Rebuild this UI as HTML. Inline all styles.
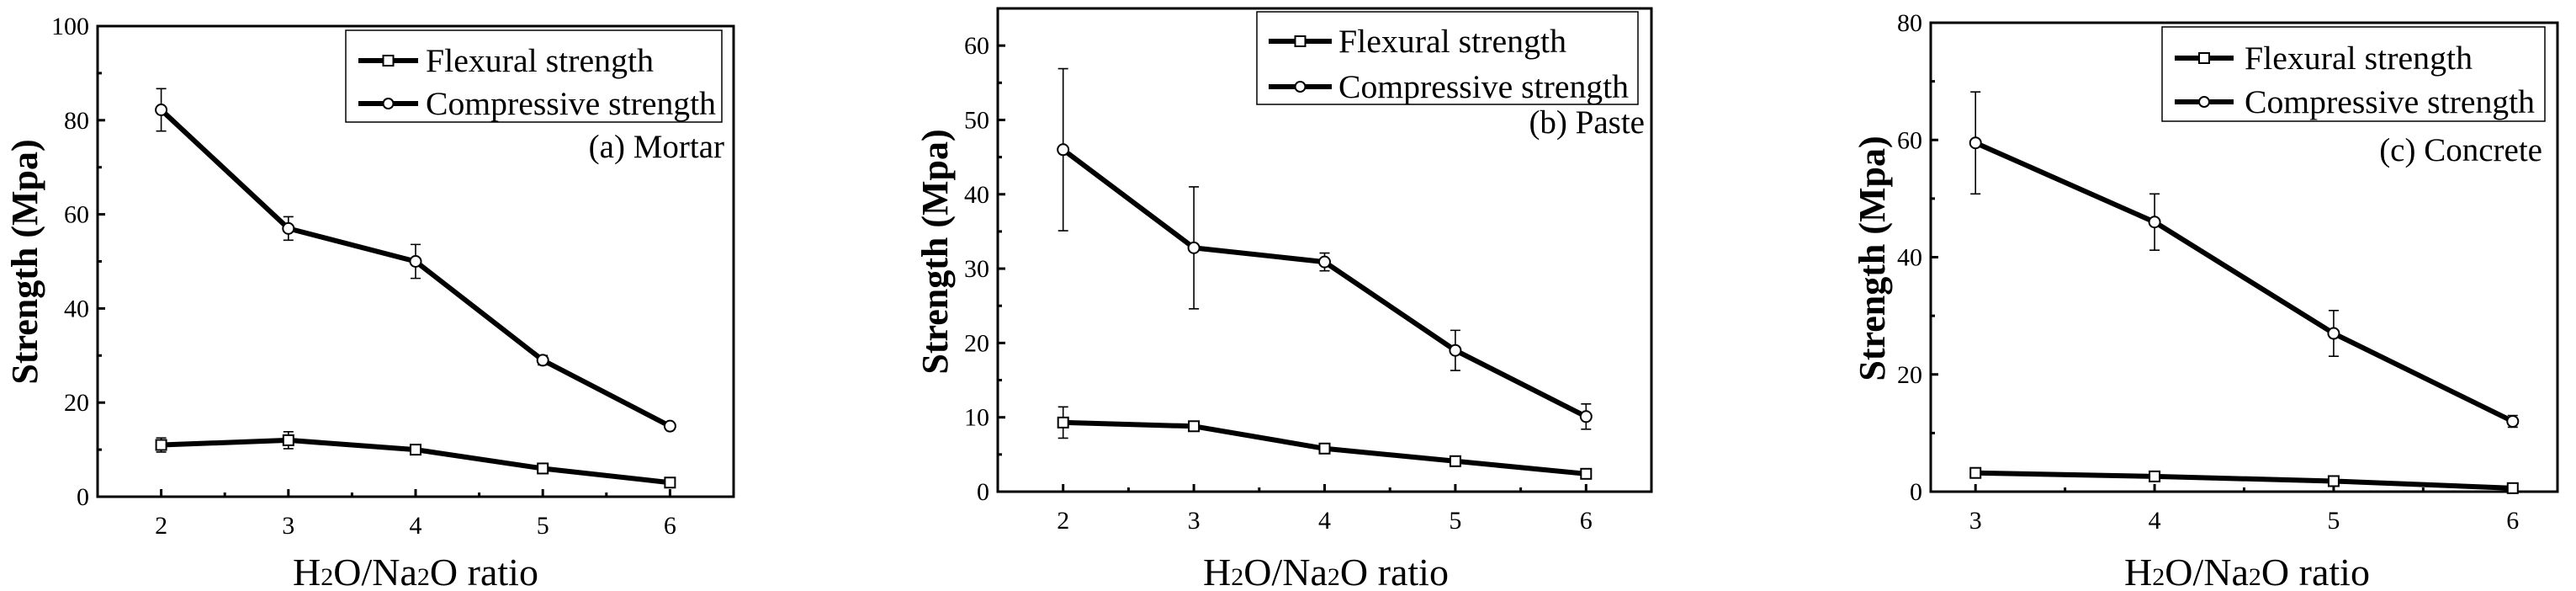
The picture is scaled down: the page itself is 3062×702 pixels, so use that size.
<!DOCTYPE html>
<html><head><meta charset="utf-8"><style>
html,body{margin:0;padding:0;background:#fff;}
svg{display:block;}
svg text{font-family:"Liberation Serif","Times New Roman",serif;}
</style></head><body>
<svg id="fig" width="3062" height="702" viewBox="0 0 3062 702"></svg>
<script>
const categoriesA = [2,3,4,5,6];
const compressiveA = [82.2,57,50,29,15];
const compressiveErrA = [4.5,2.5,3.6,1,0.5];
const flexuralA = [11,12,10,6,3];
const flexuralErrA = [1.5,1.8,0.8,0.8,0.5];
const yTicksA = [0,20,40,60,80,100];

const categoriesB = [2,3,4,5,6];
const compressiveB = [46,32.8,30.9,19,10.1];
const compressiveErrB = [10.9,8.2,1.2,2.7,1.7];
const flexuralB = [9.3,8.8,5.8,4.1,2.4];
const flexuralErrB = [2.1,0.4,0.4,0.4,0.4];
const yTicksB = [0,10,20,30,40,50,60];

const categoriesC = [3,4,5,6];
const compressiveC = [59.5,46,27,12];
const compressiveErrC = [8.7,4.8,3.9,1];
const flexuralC = [3.2,2.6,1.8,0.6];
const flexuralErrC = [0.4,0.4,0.6,0.3];
const yTicksC = [0,20,40,60,80];

const NS="http://www.w3.org/2000/svg";
const svg=document.getElementById('fig');
const FF='Liberation Serif, Times New Roman, serif';
function mk(tag,attrs,parent,text){const e=document.createElementNS(NS,tag);for(const k in attrs)e.setAttribute(k,attrs[k]);if(tag==='text')e.setAttribute('font-family',FF);if(text!==undefined)e.textContent=text;(parent||svg).appendChild(e);return e;}

function panel(o){
  const g=mk('g',{});
  
  
  const sx=v=>o.x0+(v-o.xmin)/(o.xmax-o.xmin)*(o.x1-o.x0);
  const sy=v=>o.y1-(v-o.ymin)/(o.ymax-o.ymin)*(o.y1-o.y0);
  const fr=mk('rect',{x:o.x0,y:o.y0,width:o.x1-o.x0,height:o.y1-o.y0,fill:'none',stroke:'#000','stroke-width':3},g);
  
  
  o.yticks.forEach((t,i)=>{
    const y=sy(t);
    mk('line',{x1:o.x0,x2:o.x0+9,y1:y,y2:y,stroke:'#000','stroke-width':3},g);
    const lb=mk('text',{x:o.x0-10,y:y+10,'text-anchor':'end','font-size':30},g,String(t));
    
    
    if(i<o.yticks.length-1){const m=(t+o.yticks[i+1])/2;mk('line',{x1:o.x0,x2:o.x0+5,y1:sy(m),y2:sy(m),stroke:'#000','stroke-width':3},g);}
  });
  o.cats.forEach((c,i)=>{
    const x=sx(c);
    mk('line',{x1:x,x2:x,y1:o.y1,y2:o.y1-9,stroke:'#000','stroke-width':3},g);
    const lb=mk('text',{x:x,y:o.y1+44,'text-anchor':'middle','font-size':30},g,String(c));
    
    
    if(i<o.cats.length-1){const m=(c+o.cats[i+1])/2;mk('line',{x1:sx(m),x2:sx(m),y1:o.y1,y2:o.y1-5,stroke:'#000','stroke-width':3},g);}
  });
  function series(vals,errs,shape,nm){
    const pts=o.cats.map((c,i)=>sx(c)+','+sy(vals[i])).join(' ');
    const pl=mk('polyline',{points:pts,fill:'none',stroke:'#000','stroke-width':6,'stroke-linejoin':'round'},g);
    
    
    o.cats.forEach((c,i)=>{
      const x=sx(c),ya=sy(vals[i]+errs[i]),yb=sy(vals[i]-errs[i]);
      const eb=mk('path',{d:`M${x},${ya}V${yb}M${x-6},${ya}H${x+6}M${x-6},${yb}H${x+6}`,stroke:'#000','stroke-width':1.6,fill:'none'},g);
      
      
      let m;
      if(shape==='circle') m=mk('circle',{cx:x,cy:sy(vals[i]),r:6.5,fill:'#fff',stroke:'#000','stroke-width':2},g);
      else m=mk('rect',{x:x-6,y:sy(vals[i])-6,width:12,height:12,fill:'#fff',stroke:'#000','stroke-width':2},g);
      
      
    });
  }
  series(o.comp,o.compErr,'circle','compressive');
  series(o.flex,o.flexErr,'square','flexural');
  const L=o.leg;
  const lg=mk('g',{},g);
  
  
  mk('rect',{x:L.x,y:L.y,width:L.w,height:L.h,fill:'#fff',stroke:'#000','stroke-width':1.5},lg);
  [['Flexural strength','square',L.e1],['Compressive strength','circle',L.e2]].forEach(([t,s,yy])=>{
    const eg=mk('g',{},lg);
    
    
    mk('line',{x1:L.sx0,x2:L.sx1,y1:yy,y2:yy,stroke:'#000','stroke-width':6},eg);
    const mx=(L.sx0+L.sx1)/2;
    if(s==='circle') mk('circle',{cx:mx,cy:yy,r:6,fill:'#fff',stroke:'#000','stroke-width':2},eg);
    else mk('rect',{x:mx-6,y:yy-6,width:12,height:12,fill:'#fff',stroke:'#000','stroke-width':2},eg);
    mk('text',{x:L.tx,y:yy+13,'font-size':39,textLength:s==='circle'?L.tl2:L.tl1,lengthAdjust:'spacingAndGlyphs'},eg,t);
  });
  const pt=mk('text',{x:o.lab.x,y:o.lab.y,'text-anchor':'end','font-size':39},g,o.lab.t);
  
  
  const yt=mk('text',{x:0,y:0,'text-anchor':'middle','font-size':44,'font-weight':'bold',transform:`translate(${o.ytx},${o.yty}) rotate(-90)`,dy:15},g,'Strength (Mpa)');
  
  
  const xt=mk('text',{x:o.xtx,y:695,'text-anchor':'middle','font-size':46},g);
  
  
  xt.innerHTML='H<tspan font-size="30">2</tspan>O/Na<tspan font-size="30">2</tspan>O ratio';
}

panel({name:'panel-a-mortar',x0:116,x1:872,y0:31,y1:590,xmin:1.5,xmax:6.5,ymin:0,ymax:100,
  cats:categoriesA,comp:compressiveA,compErr:compressiveErrA,flex:flexuralA,flexErr:flexuralErrA,yticks:yTicksA,
  leg:{x:411,y:36,w:447,h:109,e1:72,e2:123,sx0:426,sx1:497,tx:506,tl1:271,tl2:345},
  lab:{x:861,y:187,t:'(a) Mortar'},ytx:29,yty:311,xtx:494});
panel({name:'panel-b-paste',x0:1186,x1:1963,y0:10,y1:584,xmin:1.5,xmax:6.5,ymin:0,ymax:65,
  cats:categoriesB,comp:compressiveB,compErr:compressiveErrB,flex:flexuralB,flexErr:flexuralErrB,yticks:yTicksB,
  leg:{x:1494,y:14,w:453,h:110,e1:49,e2:103,sx0:1508,sx1:1583,tx:1591,tl1:271,tl2:345},
  lab:{x:1955,y:158,t:'(b) Paste'},ytx:1111,yty:299,xtx:1576});
panel({name:'panel-c-concrete',x0:2295,x1:3040,y0:27,y1:584,xmin:2.75,xmax:6.25,ymin:0,ymax:80,
  cats:categoriesC,comp:compressiveC,compErr:compressiveErrC,flex:flexuralC,flexErr:flexuralErrC,yticks:yTicksC,
  leg:{x:2570,y:32,w:455,h:112,e1:69,e2:121,sx0:2585,sx1:2655,tx:2668,tl1:271,tl2:345},
  lab:{x:3022,y:191,t:'(c) Concrete'},ytx:2225,yty:307,xtx:2671});
</script>
</body></html>
